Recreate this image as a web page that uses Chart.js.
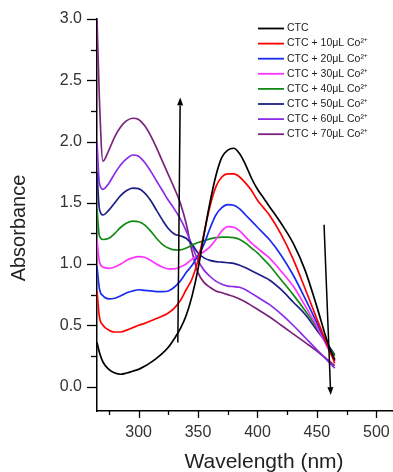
<!DOCTYPE html>
<html>
<head>
<meta charset="utf-8">
<script src="https://cdn.jsdelivr.net/npm/chart.js@4.4.1/dist/chart.umd.min.js"></script>
<style>
  html, body { margin: 0; padding: 0; background: #fff; }
  canvas { display: block; }
</style>
</head>
<body>
<canvas id="uvChart" width="393" height="472"></canvas>
<script>
// wavelengths (nm) shared by all spectra
const wavelength = [265, 267, 270, 275, 280, 285, 290, 295, 300, 305, 310, 315, 320, 325, 330, 335, 340, 345, 350, 355, 360, 365, 370, 375, 380, 385, 390, 395, 400, 405, 410, 420, 430, 440, 450, 460, 465];

const ctc   = [0.36, 0.28, 0.20, 0.14, 0.11, 0.10, 0.11, 0.125, 0.14, 0.165, 0.195, 0.23, 0.27, 0.32, 0.39, 0.47, 0.58, 0.74, 0.96, 1.24, 1.50, 1.72, 1.87, 1.93, 1.945, 1.90, 1.81, 1.70, 1.61, 1.54, 1.47, 1.33, 1.17, 0.95, 0.65, 0.33, 0.22];
const co10  = [0.78, 0.57, 0.50, 0.46, 0.445, 0.445, 0.46, 0.48, 0.50, 0.515, 0.535, 0.555, 0.575, 0.60, 0.64, 0.70, 0.79, 0.88, 1.03, 1.25, 1.47, 1.63, 1.71, 1.735, 1.735, 1.71, 1.66, 1.60, 1.52, 1.46, 1.40, 1.24, 1.04, 0.80, 0.55, 0.31, 0.19];
const co20  = [0.98, 0.80, 0.74, 0.715, 0.72, 0.74, 0.765, 0.78, 0.79, 0.785, 0.78, 0.775, 0.775, 0.78, 0.81, 0.86, 0.93, 0.99, 1.07, 1.16, 1.29, 1.40, 1.46, 1.485, 1.48, 1.45, 1.40, 1.35, 1.30, 1.25, 1.20, 1.07, 0.91, 0.72, 0.52, 0.31, 0.21];
const co30  = [1.20, 1.02, 0.975, 0.965, 0.975, 1.00, 1.03, 1.05, 1.06, 1.055, 1.03, 1.00, 0.975, 0.96, 0.96, 0.975, 1.00, 1.04, 1.07, 1.10, 1.14, 1.20, 1.27, 1.305, 1.30, 1.27, 1.22, 1.17, 1.13, 1.09, 1.05, 0.94, 0.82, 0.66, 0.49, 0.30, 0.22];
const co40  = [1.45, 1.23, 1.20, 1.21, 1.25, 1.30, 1.335, 1.35, 1.345, 1.32, 1.27, 1.21, 1.16, 1.13, 1.115, 1.115, 1.13, 1.155, 1.175, 1.19, 1.205, 1.215, 1.22, 1.22, 1.215, 1.20, 1.17, 1.13, 1.09, 1.04, 0.99, 0.87, 0.75, 0.62, 0.48, 0.32, 0.25];
const co50  = [1.75, 1.45, 1.40, 1.44, 1.50, 1.56, 1.60, 1.62, 1.615, 1.58, 1.52, 1.44, 1.36, 1.29, 1.245, 1.23, 1.21, 1.16, 1.09, 1.05, 1.03, 1.02, 1.015, 1.01, 1.005, 0.99, 0.97, 0.945, 0.92, 0.895, 0.87, 0.79, 0.69, 0.59, 0.46, 0.33, 0.26];
const co60  = [2.0, 1.66, 1.61, 1.66, 1.74, 1.81, 1.86, 1.89, 1.88, 1.83, 1.76, 1.68, 1.60, 1.52, 1.45, 1.37, 1.27, 1.15, 1.03, 0.95, 0.90, 0.86, 0.835, 0.82, 0.815, 0.81, 0.79, 0.76, 0.73, 0.70, 0.67, 0.59, 0.50, 0.40, 0.30, 0.20, 0.15];
const co70  = [3.0, 2.35, 1.84, 1.93, 2.04, 2.12, 2.17, 2.19, 2.18, 2.13, 2.05, 1.95, 1.84, 1.73, 1.62, 1.50, 1.33, 1.10, 0.93, 0.85, 0.81, 0.78, 0.765, 0.75, 0.735, 0.715, 0.69, 0.66, 0.63, 0.60, 0.57, 0.50, 0.43, 0.36, 0.29, 0.21, 0.17];

const seriesLabels = ['CTC', 'CTC + 10μL Co²⁺', 'CTC + 20μL Co²⁺', 'CTC + 30μL Co²⁺', 'CTC + 40μL Co²⁺', 'CTC + 50μL Co²⁺', 'CTC + 60μL Co²⁺', 'CTC + 70μL Co²⁺'];
const seriesValues = [ctc, co10, co20, co30, co40, co50, co60, co70];

// trend arrows in data units [wavelength, absorbance]
const arrows = [
  { from: [333, 0.36], to: [335, 2.36] },
  { from: [456, 1.32], to: [461.6, -0.07] }
];

const colors = ['#000000', '#ff0000', '#1a2cf0', '#ff33ff', '#138a13', '#1c1f85', '#8a2be8', '#7a237e'];
const FONT = 'Liberation Sans, Arial, sans-serif';

const datasets = seriesValues.map((vals, i) => ({
  label: seriesLabels[i],
  data: wavelength.map((w, j) => ({ x: w, y: vals[j] })),
  borderColor: colors[i],
  borderWidth: 1.7,
  pointRadius: 0,
  fill: false,
  cubicInterpolationMode: 'monotone'
}));

// ticks, arrows, legend and axis titles
const decor = {
  id: 'decor',
  afterDatasetsDraw(chart) {
    const { ctx, chartArea } = chart;
    const xs = chart.scales.x, ys = chart.scales.y;
    ctx.save();
    ctx.strokeStyle = '#000';
    ctx.lineWidth = 1.3;

    // tick marks (major / minor)
    ys.ticks.forEach(t => {
      const py = Math.round(ys.getPixelForValue(t.value)) + 0.5;
      const len = (Math.round(t.value * 100) % 50 === 0) ? 10 : 6;
      ctx.beginPath();
      ctx.moveTo(chartArea.left - len, py);
      ctx.lineTo(chartArea.left, py);
      ctx.stroke();
    });
    xs.ticks.forEach(t => {
      const px = Math.round(xs.getPixelForValue(t.value)) + 0.5;
      const len = (t.value % 50 === 0) ? 7 : 4;
      ctx.beginPath();
      ctx.moveTo(px, chartArea.bottom);
      ctx.lineTo(px, chartArea.bottom + len);
      ctx.stroke();
    });

    // arrows
    ctx.fillStyle = '#000';
    ctx.lineWidth = 1.5;
    arrows.forEach(a => {
      const x0 = xs.getPixelForValue(a.from[0]), y0 = ys.getPixelForValue(a.from[1]);
      const x1 = xs.getPixelForValue(a.to[0]), y1 = ys.getPixelForValue(a.to[1]);
      const ang = Math.atan2(y1 - y0, x1 - x0);
      const hl = 8, hw = 3;
      const bx = x1 - hl * Math.cos(ang), by = y1 - hl * Math.sin(ang);
      ctx.beginPath();
      ctx.moveTo(x0, y0);
      ctx.lineTo(bx, by);
      ctx.stroke();
      ctx.beginPath();
      ctx.moveTo(x1, y1);
      ctx.lineTo(bx + hw * Math.sin(ang), by - hw * Math.cos(ang));
      ctx.lineTo(bx - hw * Math.sin(ang), by + hw * Math.cos(ang));
      ctx.closePath();
      ctx.fill();
    });

    // legend
    ctx.font = '10.5px ' + FONT;
    ctx.textBaseline = 'middle';
    ctx.textAlign = 'left';
    chart.data.datasets.forEach((ds, i) => {
      const ly = 28.5 + i * 15.1;
      ctx.strokeStyle = ds.borderColor;
      ctx.lineWidth = 1.8;
      ctx.beginPath();
      ctx.moveTo(258, ly);
      ctx.lineTo(284, ly);
      ctx.stroke();
      ctx.fillStyle = '#222';
      ctx.fillText(ds.label, 287, ly);
    });

    // x axis title
    ctx.font = '21px ' + FONT;
    ctx.fillStyle = '#222';
    ctx.textAlign = 'center';
    ctx.textBaseline = 'alphabetic';
    ctx.fillText('Wavelength (nm)', 264, 468);

    // y axis title
    ctx.font = '20px ' + FONT;
    ctx.textBaseline = 'middle';
    ctx.translate(19, 228);
    ctx.rotate(-Math.PI / 2);
    ctx.fillText('Absorbance', 0, 0);
    ctx.restore();
  }
};

new Chart(document.getElementById('uvChart'), {
  type: 'line',
  data: { datasets },
  options: {
    responsive: false,
    animation: false,
    layout: { padding: { top: 19, right: 0, left: 0, bottom: 0 } },
    plugins: {
      legend: { display: false },
      tooltip: { enabled: false }
    },
    scales: {
      x: {
        type: 'linear',
        min: 265,
        max: 514,
        grid: { display: false, drawTicks: false },
        border: { display: true, color: '#000', width: 1.5 },
        ticks: {
          stepSize: 25,
          includeBounds: false,
          autoSkip: false,
          maxRotation: 0,
          padding: 12,
          color: '#333',
          font: { family: FONT, size: 16 },
          callback: v => (v % 50 === 0 ? String(v) : '')
        },
        afterFit: s => { s.height = 61; s.paddingLeft = 0; s.paddingRight = 0; }
      },
      y: {
        min: -0.2,
        max: 3.0,
        grid: { display: false, drawTicks: false },
        border: { display: true, color: '#000', width: 1.5 },
        ticks: {
          stepSize: 0.25,
          includeBounds: false,
          autoSkip: false,
          padding: 15,
          color: '#333',
          font: { family: FONT, size: 16 },
          callback: v => (Math.round(v * 100) % 50 === 0 ? v.toFixed(1) : '')
        },
        afterFit: s => { s.width = 97; s.paddingTop = 0; s.paddingBottom = 0; }
      }
    }
  },
  plugins: [decor]
});
</script>
</body>
</html>
